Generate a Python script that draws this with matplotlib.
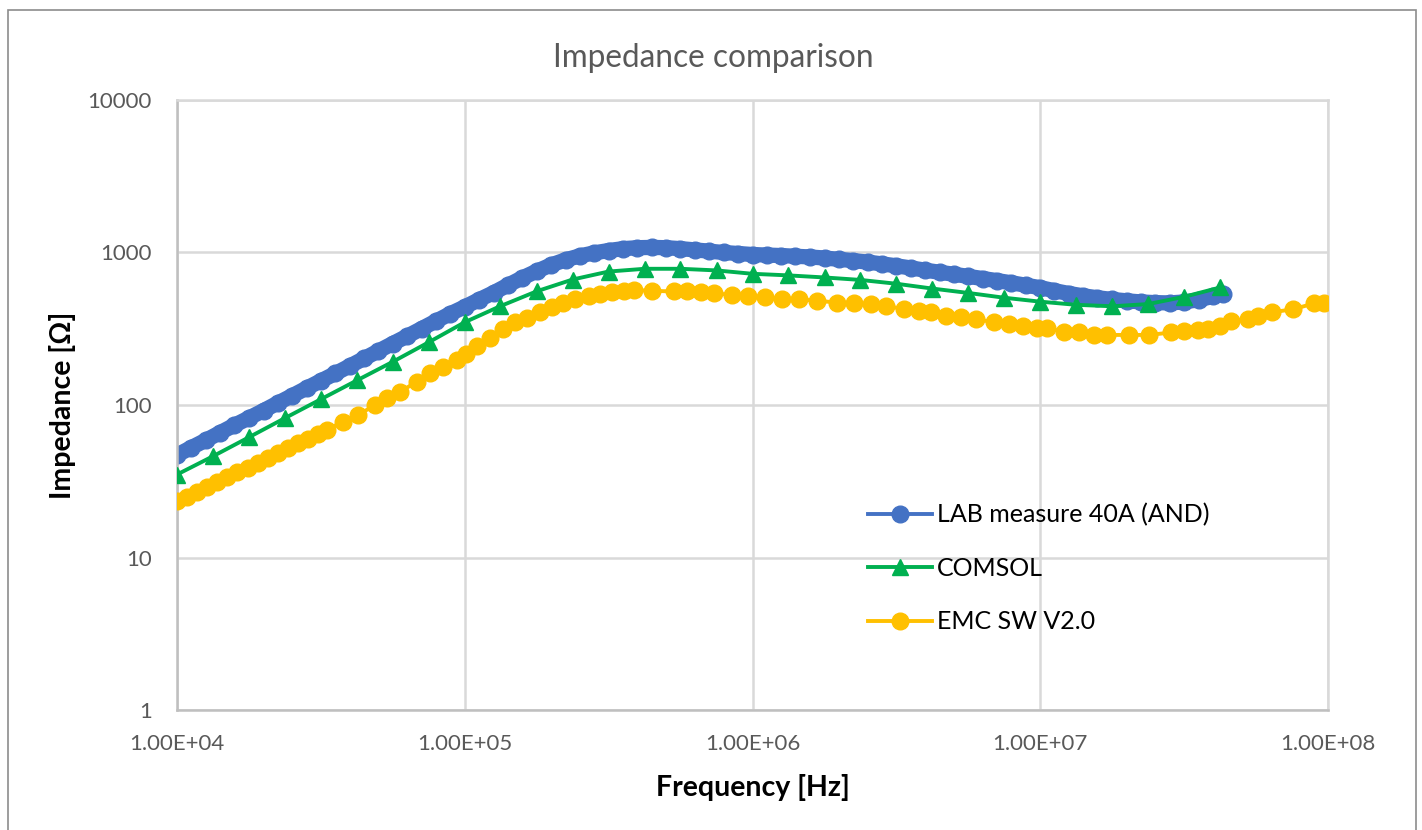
import matplotlib
matplotlib.use("Agg")
import matplotlib.pyplot as plt
from matplotlib.patches import Rectangle
from matplotlib.ticker import FixedLocator, FuncFormatter, NullLocator

plt.rcParams["font.family"] = ["Lato", "DejaVu Sans"]

# LAB measure 40A (AND): frequency [Hz], impedance [Ohm]
lab_f = [
    1.00e4, 1.12e4, 1.26e4, 1.41e4, 1.58e4, 1.78e4, 2.00e4, 2.24e4, 2.51e4, 2.82e4,
    3.16e4, 3.55e4, 3.98e4, 4.47e4, 5.01e4, 5.62e4, 6.31e4, 7.08e4, 7.94e4, 8.91e4,
    1.00e5, 1.12e5, 1.26e5, 1.41e5, 1.58e5, 1.78e5, 2.00e5, 2.24e5, 2.51e5, 2.82e5,
    3.16e5, 3.55e5, 3.98e5, 4.47e5, 5.01e5, 5.62e5, 6.31e5, 7.08e5, 7.94e5, 8.91e5,
    1.00e6, 1.12e6, 1.26e6, 1.41e6, 1.58e6, 1.78e6, 2.00e6, 2.24e6, 2.51e6, 2.82e6,
    3.16e6, 3.55e6, 3.98e6, 4.47e6, 5.01e6, 5.62e6, 6.31e6, 7.08e6, 7.94e6, 8.91e6,
    1.00e7, 1.12e7, 1.26e7, 1.41e7, 1.58e7, 1.78e7, 2.00e7, 2.24e7, 2.51e7, 2.82e7,
    3.16e7, 3.55e7, 3.98e7, 4.30e7,
]
lab_z = [
    47, 52.5, 58.8, 65.8, 73.6, 82.3, 92, 103, 115, 129,
    144, 161, 180, 202, 226, 253, 283, 317, 355, 397,
    440, 490, 545, 610, 680, 755, 830, 895, 950, 995,
    1030, 1060, 1075, 1080, 1075, 1060, 1040, 1020, 1000, 985,
    970, 962, 955, 945, 935, 920, 902, 885, 865, 842,
    818, 792, 766, 742, 720, 697, 675, 654, 633, 610,
    588, 562, 538, 520, 505, 492, 482, 474, 469, 467,
    474, 490, 515, 538,
]

# COMSOL
comsol_f = [
    1.00e4, 1.33e4, 1.78e4, 2.37e4, 3.16e4, 4.22e4, 5.62e4, 7.50e4,
    1.00e5, 1.33e5, 1.78e5, 2.37e5, 3.16e5, 4.22e5, 5.62e5, 7.50e5,
    1.00e6, 1.33e6, 1.78e6, 2.37e6, 3.16e6, 4.22e6, 5.62e6, 7.50e6,
    1.00e7, 1.33e7, 1.78e7, 2.37e7, 3.16e7, 4.22e7,
]
comsol_z = [
    35, 46, 61.5, 82, 109, 145, 192, 258,
    349, 445, 557, 665, 750, 782, 782, 763,
    725, 708, 686, 661, 624, 580, 543, 505,
    476, 454, 444, 459, 512, 590,
]

# EMC SW V2.0
emc_f = [
    1.000e4, 1.084e4, 1.175e4, 1.274e4, 1.380e4, 1.496e4, 1.622e4, 1.758e4,
    1.905e4, 2.065e4, 2.239e4, 2.427e4, 2.630e4, 2.851e4, 3.090e4, 3.311e4,
    3.784e4, 4.266e4, 4.875e4, 5.358e4, 5.957e4, 6.808e4, 7.568e4, 8.414e4,
    9.376e4, 1.012e5, 1.099e5, 1.222e5, 1.361e5, 1.493e5, 1.641e5, 1.828e5,
    2.004e5, 2.203e5, 2.421e5, 2.692e5, 2.958e5, 3.251e5, 3.565e5, 3.864e5,
    4.477e5, 5.333e5, 5.929e5, 6.607e5, 7.345e5, 8.511e5, 9.660e5, 1.109e6,
    1.268e6, 1.449e6, 1.679e6, 1.972e6, 2.254e6, 2.576e6, 2.904e6, 3.365e6,
    3.793e6, 4.169e6, 4.699e6, 5.309e6, 5.984e6, 6.934e6, 7.816e6, 8.710e6,
    9.772e6, 1.054e7, 1.205e7, 1.361e7, 1.535e7, 1.710e7, 2.037e7, 2.393e7,
    2.851e7, 3.170e7, 3.532e7, 3.828e7, 4.207e7, 4.613e7, 5.284e7, 5.728e7,
    6.368e7, 7.586e7, 8.913e7, 9.660e7,
]
emc_z = [
    23.4, 25.1, 27.0, 29.0, 31.3, 33.6, 36.1, 38.9,
    41.9, 45.2, 48.6, 52.2, 56.2, 60.3, 64.6, 68.6,
    77.8, 86, 100, 111, 122, 142, 161, 178,
    198, 215, 244, 277, 315, 348, 371, 405,
    436, 470, 494, 520, 533, 547, 561, 567,
    561, 555, 555, 547, 539, 528, 518, 507,
    494, 494, 482, 470, 463, 459, 447, 425,
    415, 405, 385, 379, 366, 348, 339, 330,
    321, 319, 303, 299, 288, 288, 288, 288,
    299, 306, 309, 317, 330, 353, 365, 385,
    405, 425, 463, 470,
]

x_ticks = [1e4, 1e5, 1e6, 1e7, 1e8]
y_ticks = [1, 10, 100, 1000, 10000]

BLUE = "#4472C4"
GREEN = "#00B050"
YELLOW = "#FFC000"
GRID = "#D9D9D9"
TEXT = "#595959"

fig = plt.figure(figsize=(14.22, 8.30), dpi=100)
ax = fig.add_axes([177 / 1422, 1 - 710 / 830, 1151 / 1422, 610 / 830])

# measured data is dense, drawn as a band plus the markers on top
ax.plot(lab_f, lab_z, color=BLUE, linewidth=11, solid_capstyle="round", zorder=2)
ax.plot(lab_f, lab_z, color=BLUE, linewidth=2.8, marker="o", markersize=12,
        label="LAB measure 40A (AND)", zorder=2)
ax.plot(comsol_f, comsol_z, color=GREEN, linewidth=2.8, marker="^", markersize=12,
        label="COMSOL", zorder=3)
ax.plot(emc_f, emc_z, color=YELLOW, linewidth=2.8, marker="o", markersize=12,
        label="EMC SW V2.0", zorder=4)

ax.set_xscale("log")
ax.set_yscale("log")
ax.set_xlim(1e4, 1e8)
ax.set_ylim(1, 10000)
ax.xaxis.set_major_locator(FixedLocator(x_ticks))
ax.yaxis.set_major_locator(FixedLocator(y_ticks))
ax.xaxis.set_minor_locator(NullLocator())
ax.yaxis.set_minor_locator(NullLocator())
ax.xaxis.set_major_formatter(FuncFormatter(lambda v, p: f"{v:.2E}"))
ax.yaxis.set_major_formatter(FuncFormatter(lambda v, p: f"{v:g}"))
ax.tick_params(length=0, labelsize=16, labelcolor=TEXT)
ax.tick_params(axis="x", pad=17)
ax.tick_params(axis="y", pad=18)

ax.grid(True, color=GRID, linewidth=1.8, zorder=0)
ax.set_axisbelow(True)
for side in ["top", "right"]:
    ax.spines[side].set_color(GRID)
    ax.spines[side].set_linewidth(1.8)
for side in ["left", "bottom"]:
    ax.spines[side].set_color("#BFBFBF")
    ax.spines[side].set_linewidth(1.8)

ax.set_xlabel("Frequency [Hz]", fontsize=20.5, fontweight="bold", color="black")
ax.set_ylabel("Impedance [\u03a9]", fontsize=20.5, fontweight="bold", color="black")
ax.xaxis.set_label_coords(0.5, -0.105)
ax.yaxis.set_label_coords(-0.088, 0.5)

fig.text(713 / 1422, 1 - 58 / 830, "Impedance comparison", fontsize=22.7,
         color=TEXT, ha="center", va="center")

ax.legend(loc="upper left", bbox_to_anchor=(868 / 1422, 1 - 503 / 830),
          bbox_transform=fig.transFigure, frameon=False, fontsize=18,
          handlelength=2.55, handletextpad=0.22, labelspacing=1.22,
          borderpad=0, borderaxespad=0, labelcolor="black")

fig.patches.append(Rectangle((8 / 1422, -0.01), 1408 / 1422, 1 - 10 / 830 + 0.01,
                             transform=fig.transFigure, fill=False,
                             edgecolor="#8C8C8C", linewidth=1.2))

fig.savefig("out.png", dpi=100)
